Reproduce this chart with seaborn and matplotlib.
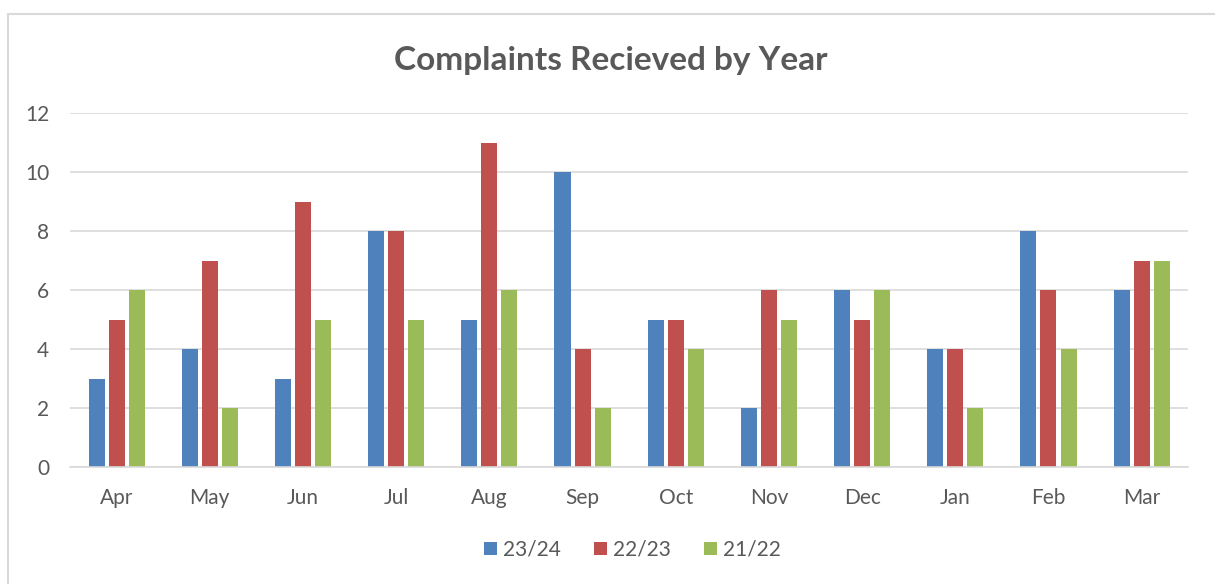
##Complaints received by year - grouped bar chart
import pandas as pd
import matplotlib.pyplot as plt
import seaborn as sns
from matplotlib.patches import Rectangle

#Data
months = ['Apr', 'May', 'Jun', 'Jul', 'Aug', 'Sep', 'Oct', 'Nov', 'Dec', 'Jan', 'Feb', 'Mar']
years = ['23/24', '22/23', '21/22']
y2324 = [3, 4, 3, 8, 5, 10, 5, 2, 6, 4, 8, 6]
y2223 = [5, 7, 9, 8, 11, 4, 5, 6, 5, 4, 6, 7]
y2122 = [6, 2, 5, 5, 6, 2, 4, 5, 6, 2, 4, 7]
colors = ['#4F81BD', '#C0504D', '#9BBB59']

#Long format for seaborn
df = pd.DataFrame({'month': months * 3,
                   'year': [years[0]] * 12 + [years[1]] * 12 + [years[2]] * 12,
                   'count': y2324 + y2223 + y2122})

sns.set_theme(style='white')
plt.rcParams['font.family'] = ['Lato', 'DejaVu Sans']
text_col = '#595959'

fig = plt.figure(figsize=(12.15, 5.84), dpi=100)
ax = fig.add_axes([0.0576, 0.2003, 0.9204, 0.6062])

sns.barplot(data=df, x='month', y='count', hue='year', order=months, hue_order=years,
            palette=colors, width=0.645, gap=0.2, linewidth=0, saturation=1, ax=ax)

ax.set_ylim(0, 12)
ax.set_yticks(range(0, 13, 2))
ax.yaxis.grid(True, color='#D9D9D9', linewidth=1.2)
ax.set_axisbelow(True)
for s in ['top', 'right', 'left']:
    ax.spines[s].set_visible(False)
ax.spines['bottom'].set_color('#D9D9D9')
ax.spines['bottom'].set_linewidth(1.2)
ax.tick_params(axis='both', colors=text_col, labelsize=15, length=0)
ax.tick_params(axis='x', pad=15)
ax.tick_params(axis='y', pad=15)
ax.set_xlabel('')
ax.set_ylabel('')

fig.suptitle('Complaints Recieved by Year', x=0.503, y=0.922, fontsize=24,
             fontweight='bold', color=text_col)

ax.legend(loc='center', bbox_to_anchor=(0.503, -0.234), bbox_transform=ax.transAxes,
          ncol=3, frameon=False, fontsize=15, labelcolor=text_col,
          handlelength=0.6, handleheight=0.6, handletextpad=0.3, columnspacing=1.6)

#Chart area frame (cut at the right and bottom)
fig.patches.append(Rectangle((8 / 1215, -0.05), 1.2, 1 - 14 / 584 + 0.05, transform=fig.transFigure,
                             fill=False, edgecolor='#D9D9D9', linewidth=1.5))

plt.savefig('out.png', dpi=100)
